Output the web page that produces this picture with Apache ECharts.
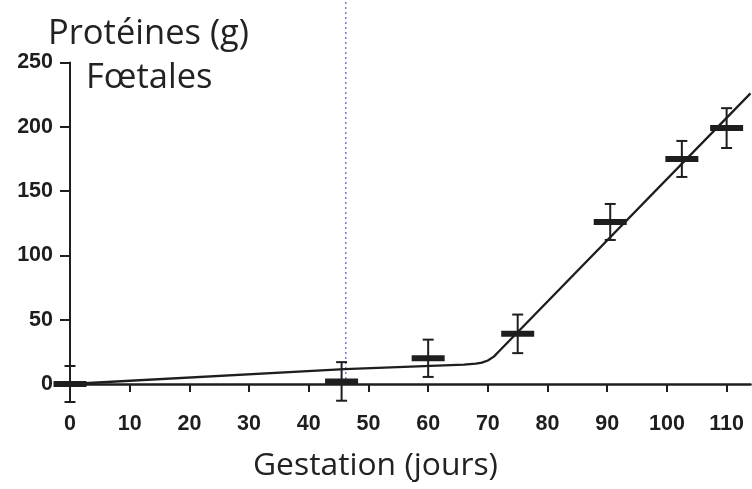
<!DOCTYPE html>
<html><head><meta charset="utf-8">
<script src="https://cdn.jsdelivr.net/npm/echarts@6/dist/echarts.min.js"></script>
<style>html,body{margin:0;padding:0;background:#fff}#c{width:752px;height:489px}</style>
</head><body><div id="c"></div>
<script>
var days = [0, 45.5, 60, 75, 90.5, 102.5, 110];
var proteinMeans = [0, 2, 20, 39, 126, 175, 199];
var proteinErrors = [14, 15, 14.5, 15, 14, 14, 15.5];
var fitDays = [0, 46, 66, 68, 69, 70, 71, 72, 114];
var fitValues = [0, 11.5, 15, 15.8, 16.6, 18.3, 21.3, 26, 226];
var markerDay = 46.2;
var xTicks = [0, 10, 20, 30, 40, 50, 60, 70, 80, 90, 100, 110];
var yTicks = [0, 50, 100, 150, 200, 250];

var chart = echarts.init(document.getElementById('c'), null, {renderer: 'canvas'});
var pts = days.map(function (d, i) { return [d, proteinMeans[i], proteinErrors[i]]; });
var fit = fitDays.map(function (d, i) { return [d, fitValues[i]]; });
var ink = '#1e1e1e';
var tickFont = {color: ink, fontWeight: 'bold', fontSize: 21.5, fontFamily: 'Liberation Sans, Arial, sans-serif'};

chart.setOption({
  animation: false,
  grid: {left: 70, right: 1.5, top: 62.5, bottom: 105, containLabel: false},
  xAxis: {
    type: 'value', min: 0, max: 114,
    axisLine: {show: true, onZero: false, lineStyle: {color: ink, width: 2.5}},
    axisTick: {show: true, length: 8, customValues: xTicks, lineStyle: {color: ink, width: 2}},
    axisLabel: Object.assign({margin: 29, customValues: xTicks}, tickFont),
    splitLine: {show: false}
  },
  yAxis: {
    type: 'value', min: 0, max: 250, interval: 50,
    axisLine: {show: true, onZero: false, lineStyle: {color: ink, width: 2}},
    axisTick: {show: true, length: 10, customValues: yTicks, lineStyle: {color: ink, width: 2}},
    axisLabel: Object.assign({margin: 17, customValues: yTicks}, tickFont),
    splitLine: {show: false}
  },
  graphic: [
    {type: 'text', left: 48, top: 17, style: {text: 'Protéines (g)', font: '34.5px "Open Sans", sans-serif', fill: '#222'}},
    {type: 'text', left: 86, top: 61, style: {text: 'Fœtales', font: '34.5px "Open Sans", sans-serif', fill: '#222'}},
    {type: 'text', left: 253, top: 450, style: {text: 'Gestation (jours)', font: '31.8px "Open Sans", sans-serif', fill: '#222'}}
  ],
  series: [
    {
      type: 'line', data: [[markerDay, 0], [markerDay, 300]], clip: false, symbol: 'none',
      lineStyle: {color: '#5b5bc8', width: 1.2, type: [2, 3]}, z: 1
    },
    {
      type: 'line', data: fit, symbol: 'none', clip: false,
      lineStyle: {color: ink, width: 2.3}, z: 3
    },
    {
      type: 'custom', clip: false, z: 4,
      data: pts,
      renderItem: function (params, api) {
        var x = api.value(0), m = api.value(1), e = api.value(2);
        var c = api.coord([x, m]);
        var top = api.coord([x, m + e]);
        var bot = api.coord([x, m - e]);
        var cap = 5.5, half = 16.5;
        var ls = {stroke: ink, lineWidth: 2};
        return {
          type: 'group',
          children: [
            {type: 'line', shape: {x1: c[0], y1: top[1], x2: c[0], y2: bot[1]}, style: ls},
            {type: 'line', shape: {x1: c[0] - cap, y1: top[1], x2: c[0] + cap, y2: top[1]}, style: ls},
            {type: 'line', shape: {x1: c[0] - cap, y1: bot[1], x2: c[0] + cap, y2: bot[1]}, style: ls},
            {type: 'rect', shape: {x: c[0] - half, y: c[1] - 3, width: half * 2, height: 6}, style: {fill: ink}}
          ]
        };
      }
    }
  ]
});
</script></body></html>
